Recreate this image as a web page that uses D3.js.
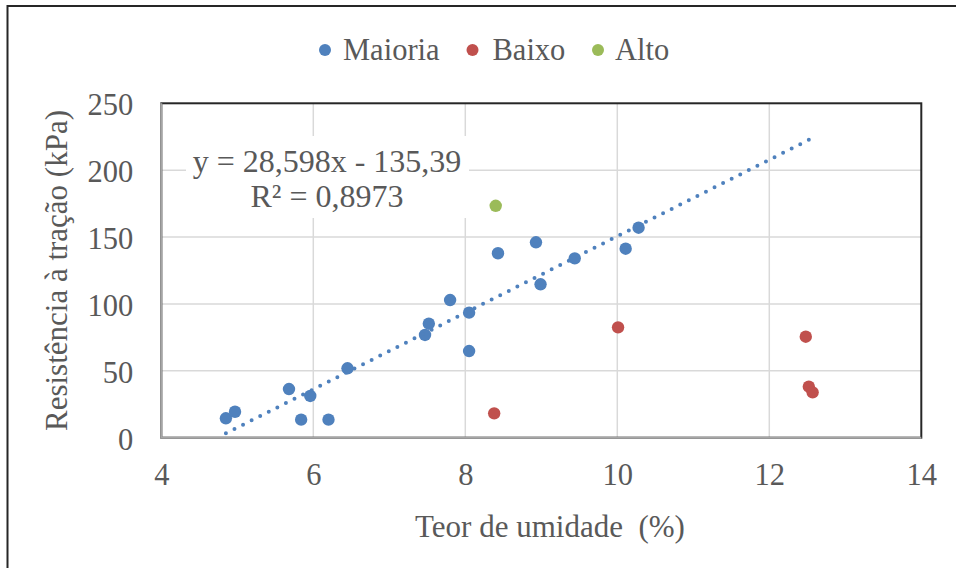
<!DOCTYPE html>
<html>
<head>
<meta charset="utf-8">
<script src="https://cdn.jsdelivr.net/npm/d3@7"></script>
<style>
  html, body { margin: 0; padding: 0; background: #fff; }
  svg { display: block; }
</style>
</head>
<body>
<svg id="chart" width="956" height="568" font-family="Liberation Serif"></svg>
<script>
// Moisture content (%) vs. tensile strength (kPa), three groups of samples
const maioriaX = [4.85, 4.97, 5.68, 5.84, 5.96, 6.20, 6.45, 7.47, 7.52, 7.80, 8.05, 8.05, 8.43, 8.93, 8.99, 9.44, 10.11, 10.28];
const maioriaY = [14.5, 19.4, 36.4, 13.5, 31.2, 13.5, 51.9, 76.8, 85.2, 102.9, 93.5, 64.8, 137.9, 146.1, 114.7, 134.1, 141.3, 157.0];
const baixoX = [8.38, 10.01, 12.48, 12.52, 12.57];
const baixoY = [18.2, 82.5, 75.5, 38.1, 33.9];
const altoX = [8.40];
const altoY = [173.4];

const seriesNames = ["Maioria", "Baixo", "Alto"];
const seriesColors = ["#4f81bd", "#c0504d", "#9bbb59"];

const xTicks = [4, 6, 8, 10, 12, 14];
const yTicks = [0, 50, 100, 150, 200, 250];

// Linear trendline of the "Maioria" group
const trendSlope = 28.598;
const trendIntercept = -135.39;
const trendR2 = 0.8973;
const trendEndX = 12.52;

const fmt = v => String(v).replace(".", ",");
const serif = "Liberation Serif";

const svg = d3.select("#chart");
const plot = { left: 161.3, top: 103.3, right: 921.3, bottom: 437.7 };

const x = d3.scaleLinear().domain([4, 14]).range([plot.left, plot.right]);
const y = d3.scaleLinear().domain([0, 250]).range([plot.bottom, plot.top]);

const textColor = "#595959";

// Chart frame
svg.append("rect")
  .attr("x", 7.5).attr("y", 6).attr("width", 980).attr("height", 600)
  .attr("fill", "#fff").attr("stroke", "#262626").attr("stroke-width", 2);

// Gridlines
svg.append("g").selectAll("line").data(xTicks.slice(1, -1)).join("line")
  .attr("x1", d => x(d)).attr("x2", d => x(d))
  .attr("y1", plot.top).attr("y2", plot.bottom)
  .attr("stroke", "#d9d9d9").attr("stroke-width", 1.5);
svg.append("g").selectAll("line").data(yTicks.slice(1, -1)).join("line")
  .attr("x1", plot.left).attr("x2", plot.right)
  .attr("y1", d => y(d)).attr("y2", d => y(d))
  .attr("stroke", "#d9d9d9").attr("stroke-width", 1.5);

// Plot area border
svg.append("rect")
  .attr("x", plot.left).attr("y", plot.top)
  .attr("width", plot.right - plot.left).attr("height", plot.bottom - plot.top)
  .attr("fill", "none").attr("stroke", "#262626").attr("stroke-width", 2);
svg.append("path")
  .attr("d", `M${plot.left},${plot.top}V${plot.bottom}H${plot.right}`)
  .attr("fill", "none").attr("stroke", "#a6a6a6").attr("stroke-width", 2);

// Axes
const yAxis = svg.append("g")
  .attr("transform", `translate(${plot.left},0)`)
  .call(d3.axisLeft(y).tickValues(yTicks).tickSize(0).tickPadding(28));
const xAxis = svg.append("g")
  .attr("transform", `translate(0,${plot.bottom})`)
  .call(d3.axisBottom(x).tickValues(xTicks).tickSize(0).tickPadding(26));
[xAxis, yAxis].forEach(g => {
  g.attr("font-family", serif).attr("font-size", 30.5);
  g.select(".domain").remove();
  g.selectAll("text").attr("fill", textColor);
});
yAxis.selectAll("text").attr("dy", "0.38em");

// Axis titles
svg.append("text")
  .attr("x", 550).attr("y", 537)
  .attr("text-anchor", "middle")
  .attr("font-family", serif).attr("font-size", 31)
  .attr("fill", textColor)
  .style("white-space", "pre")
  .text("Teor de umidade  (%)");
svg.append("text")
  .attr("transform", `translate(67,${(plot.top + plot.bottom) / 2}) rotate(-90)`)
  .attr("text-anchor", "middle")
  .attr("font-family", serif).attr("font-size", 31)
  .attr("fill", textColor)
  .text("Resistência à tração (kPa)");

// Scatter points
const groups = [
  { xs: maioriaX, ys: maioriaY },
  { xs: baixoX, ys: baixoY },
  { xs: altoX, ys: altoY }
];
groups.forEach((g, i) => {
  svg.append("g").selectAll("circle")
    .data(g.xs.map((v, k) => [v, g.ys[k]]))
    .join("circle")
    .attr("cx", d => x(d[0])).attr("cy", d => y(d[1]))
    .attr("r", 6.2)
    .attr("fill", seriesColors[i]);
});

// Trendline (round dotted), spacing adjusted so a dot sits on each end
const trendStartX = d3.min(maioriaX);
const trendPts = [trendStartX, trendEndX].map(v => [v, trendSlope * v + trendIntercept]);
const trendPath = svg.append("path")
  .attr("d", d3.line().x(d => x(d[0])).y(d => y(d[1]))(trendPts))
  .attr("fill", "none")
  .attr("stroke", seriesColors[0])
  .attr("stroke-width", 4)
  .attr("stroke-linecap", "round");
const trendLen = trendPath.node().getTotalLength();
const gap = trendLen / Math.round(trendLen / 9.6);
trendPath.attr("stroke-dasharray", `0 ${gap}`);

// Trendline equation label
const eq = svg.append("g");
eq.append("rect")
  .attr("x", 186).attr("y", 136).attr("width", 283).attr("height", 82)
  .attr("fill", "#fff");
eq.append("text")
  .attr("x", 327).attr("y", 172)
  .attr("text-anchor", "middle")
  .attr("font-family", serif).attr("font-size", 32)
  .attr("fill", textColor)
  .text(`y = ${fmt(trendSlope)}x - ${fmt(-trendIntercept)}`);
eq.append("text")
  .attr("x", 327).attr("y", 207)
  .attr("text-anchor", "middle")
  .attr("font-family", serif).attr("font-size", 32)
  .attr("fill", textColor)
  .text(`R² = ${fmt(trendR2)}`);

// Legend
const legendItems = [
  { dot: 325, text: 343 },
  { dot: 472.5, text: 492.5 },
  { dot: 598, text: 615 }
];
const legend = svg.append("g");
legendItems.forEach((p, i) => {
  legend.append("circle")
    .attr("cx", p.dot).attr("cy", 50).attr("r", 6)
    .attr("fill", seriesColors[i]);
  legend.append("text")
    .attr("x", p.text).attr("y", 60)
    .attr("font-family", serif).attr("font-size", 30.5)
    .attr("fill", textColor)
    .text(seriesNames[i]);
});
</script>
</body>
</html>
